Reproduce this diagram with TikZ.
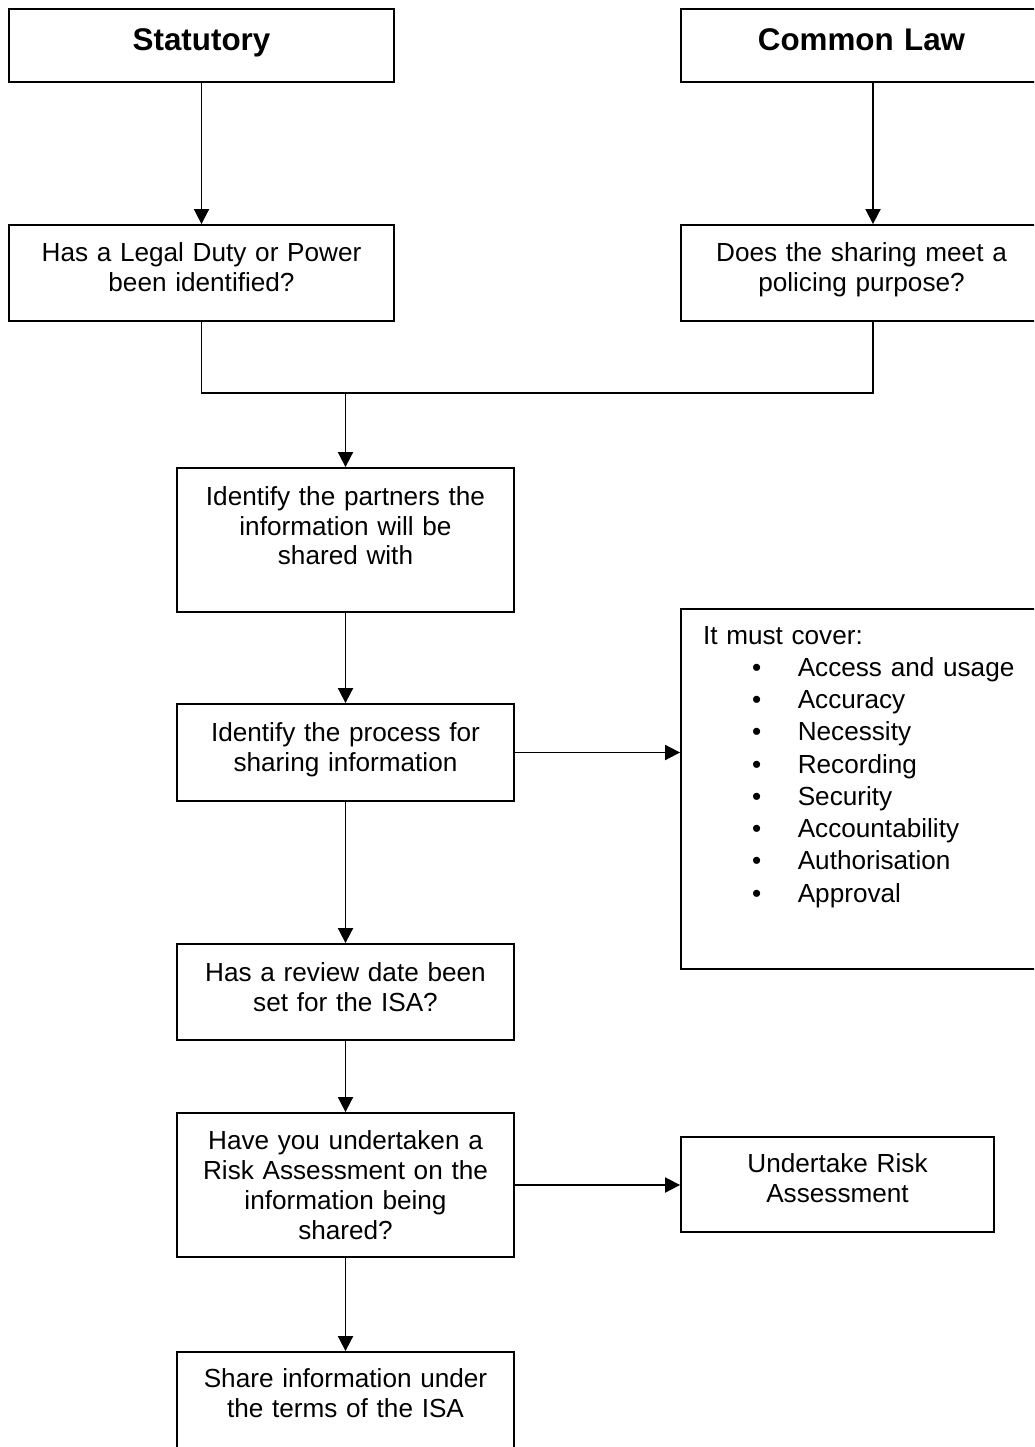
\documentclass[tikz,border=0pt]{standalone}
\usepackage{fontspec}
\setmainfont{Liberation Sans}
\usetikzlibrary{arrows.meta}
\newcommand{\coverbullet}{\hspace*{1.23cm}\makebox[1.14cm][l]{\textbullet}}

\begin{document}
\begin{tikzpicture}[
    headbox/.style={
        rectangle,
        draw=black,
        line width=1.3pt,
        align=center,
        text width=8.4cm,
        minimum height=1.825cm,
        text depth=0.3cm,
        font=\fontsize{22.3pt}{26pt}\selectfont\bfseries
    },
    flowbox/.style={
        rectangle,
        draw=black,
        line width=1.3pt,
        align=center,
        text width=7.6cm,
        minimum width=8.425cm,
        font=\fontsize{18.6pt}{21.3pt}\selectfont
    },
    arrow/.style={
        -{Triangle[length=0.375cm,width=0.375cm]},
        line width=1.3pt,
        black
    },
    joinline/.style={
        line width=1.3pt,
        black
    }
]

\clip (0,0) rectangle (25.85,-36.175);

% TOP ROW
\node[headbox, minimum width=9.625cm] (statutory) at (5.0375,-1.1375)
{
Statutory
};

\node[headbox, minimum width=9.025cm] (common) at (21.5375,-1.1375)
{
Common Law
};

% QUESTIONS
\node[flowbox, minimum width=9.625cm, text width=9cm, minimum height=2.4cm, text depth=1.05cm] (legal) at (5.0375,-6.825)
{
Has a Legal Duty or Power\\
been identified?
};

\node[flowbox, minimum width=9.025cm, text width=8.5cm, minimum height=2.4cm, text depth=1.05cm] (policing) at (21.5375,-6.825)
{
Does the sharing meet a\\
policing purpose?
};

\coordinate (join) at (8.6375,-9.825);

% MAIN FLOW
\node[flowbox, minimum height=3.6cm, text depth=2.22cm] (partners) at (8.6375,-13.5)
{
Identify the partners the\\
information will be\\
shared with
};

\node[flowbox, minimum height=2.425cm, text depth=1.025cm] (process) at (8.6375,-18.8125)
{
Identify the process for\\
sharing information
};

\node[flowbox, minimum height=2.4cm, text depth=1.0cm] (review) at (8.6375,-24.8)
{
Has a review date been\\
set for the ISA?
};

\node[flowbox, minimum height=3.6cm, text depth=2.25cm] (risk) at (8.6375,-29.625)
{
Have you undertaken a\\
Risk Assessment on the\\
information being\\
shared?
};

\node[flowbox, minimum height=2.6cm, text depth=1.32cm] (share) at (8.6375,-35.1)
{
Share information under\\
the terms of the ISA
};

% SIDE BOXES
\node[flowbox, align=left, minimum width=9.225cm, text width=8.125cm, inner xsep=0.55cm,
      minimum height=9cm, text depth=7.7cm, font=\fontsize{18.6pt}{22.95pt}\selectfont] (cover) at (21.6375,-19.725)
{
It must cover:\\
\coverbullet Access and usage\\
\coverbullet Accuracy\\
\coverbullet Necessity\\
\coverbullet Recording\\
\coverbullet Security\\
\coverbullet Accountability\\
\coverbullet Authorisation\\
\coverbullet Approval
};

\node[flowbox, minimum width=7.825cm, text width=7.2cm, minimum height=2.375cm, text depth=1.075cm] (undertake) at (20.9375,-29.6125)
{
Undertake Risk\\
Assessment
};

% ARROWS
\draw[arrow] (statutory) -- (legal);
\draw[arrow] ([xshift=0.2875cm]common.south) -- ([xshift=0.2875cm]policing.north);

\draw[joinline] (legal.south) |- (join);
\draw[joinline] ([xshift=0.2875cm]policing.south) |- (join);
\draw[arrow] (join) -- (partners);

\draw[arrow] (partners) -- (process);
\draw[arrow] (process.east) -- (process.east -| cover.west);
\draw[arrow] (process) -- (review);
\draw[arrow] (review) -- (risk);
\draw[arrow] (risk.east) -- (risk.east -| undertake.west);
\draw[arrow] (risk) -- (share);

\end{tikzpicture}
\end{document}
